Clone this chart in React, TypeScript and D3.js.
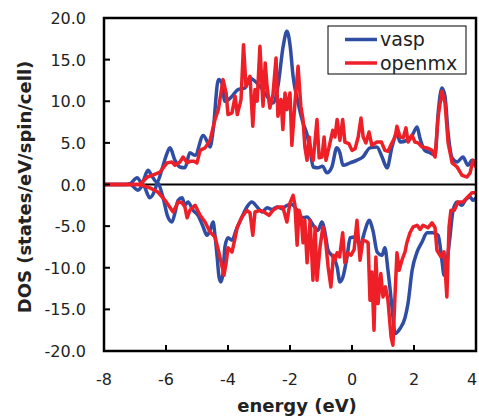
import React from "react";
import * as d3 from "d3";

// ---- data (energy in eV, DOS in states/eV/spin/cell) ----
const vaspUpE = [-8, -7.3, -7.16, -6.93, -6.78, -6.58, -6.45, -6.3, -6.1, -6.0, -5.87, -5.71, -5.55, -5.39, -5.23, -5.06, -4.8, -4.65, -4.58, -4.48, -4.31, -4.2, -4.1, -3.87, -3.68, -3.45, -3.29, -3.13, -2.97, -2.74, -2.55, -2.39, -2.22, -2.1, -2.0, -1.9, -1.74, -1.58, -1.45, -1.35, -1.25, -1.1, -0.95, -0.81, -0.65, -0.49, -0.39, -0.29, -0.06, 0.15, 0.35, 0.58, 0.8, 0.97, 1.13, 1.29, 1.45, 1.55, 1.77, 1.94, 2.1, 2.19, 2.35, 2.52, 2.68, 2.78, 2.9, 3.0, 3.1, 3.23, 3.39, 3.58, 3.74, 3.87, 4.0];
const vaspUpV = [0, 0, 0.1, 0.8, 0.2, 1.7, 1.0, 0.3, 2.2, 3.4, 4.4, 2.9, 2.1, 2.0, 3.8, 3.5, 5.9, 5.0, 4.5, 6.5, 12.6, 12.2, 10, 10.6, 11.4, 11.6, 12.8, 12.4, 11.8, 10.6, 9.8, 11.8, 16.6, 18.4, 16.8, 13, 9.8, 7.4, 6.0, 4.1, 2.1, 2.0, 2.2, 1.4, 2.1, 4.4, 3.8, 2.3, 2.6, 2.9, 3.3, 4.4, 4.5, 3.3, 2.0, 4.5, 6.2, 5.1, 5.3, 5.9, 6.9, 5.6, 4.1, 3.8, 3.5, 8.6, 11.6, 10.6, 6.2, 3.2, 2.7, 3.3, 2.3, 2.9, 2.7];

const vaspDnE = [-8, -7.3, -7.16, -6.9, -6.74, -6.52, -6.35, -6.28, -6.1, -5.94, -5.81, -5.71, -5.61, -5.48, -5.39, -5.29, -5.13, -4.97, -4.8, -4.68, -4.58, -4.48, -4.42, -4.35, -4.29, -4.23, -4.16, -4.1, -4.0, -3.87, -3.74, -3.55, -3.39, -3.23, -3.06, -2.9, -2.74, -2.58, -2.42, -2.26, -2.1, -1.94, -1.77, -1.61, -1.45, -1.25, -1.1, -0.97, -0.87, -0.77, -0.61, -0.48, -0.39, -0.3, -0.16, -0.06, 0.1, 0.26, 0.42, 0.55, 0.68, 0.81, 0.97, 1.06, 1.16, 1.29, 1.39, 1.55, 1.71, 1.81, 1.94, 2.1, 2.26, 2.42, 2.6, 2.78, 2.9, 2.97, 3.06, 3.16, 3.26, 3.39, 3.55, 3.65, 3.81, 3.9, 4.0];
const vaspDnV = [0, 0, 0, -0.7, -0.1, -1.6, -0.6, 0.2, -1.5, -3.9, -4.5, -3.4, -1.9, -1.6, -2.5, -2.1, -3.1, -3.7, -5.1, -6.1, -5.5, -4.5, -6.1, -8.7, -11.1, -11.7, -10.6, -7.5, -6.4, -6.7, -5.5, -3.9, -2.7, -2.1, -2.7, -3.3, -2.8, -3.0, -2.7, -2.9, -2.5, -2.4, -3.1, -4.0, -3.9, -4.9, -5.5, -4.5, -5.8, -7.9, -8.7, -9.9, -11.7, -11.2, -8.7, -6.4, -6.3, -7.3, -5.5, -4.3, -5.6, -8.1, -8.5, -7.6, -10.3, -14.7, -17.9, -17.3, -16.0, -14.2, -10.3, -8.1, -6.9, -5.8, -5.8, -6.1, -9.1, -10.9, -9.4, -6.3, -3.1, -2.1, -2.5, -1.9, -1.5, -1.9, -1.6];

const openmxUpE = [-8, -6.84, -6.6, -6.45, -6.19, -5.97, -5.81, -5.71, -5.55, -5.45, -5.32, -5.2, -5.1, -5.0, -4.9, -4.74, -4.58, -4.42, -4.31, -4.16, -4.06, -4.0, -3.87, -3.77, -3.7, -3.58, -3.5, -3.42, -3.29, -3.2, -3.13, -3.06, -2.97, -2.87, -2.8, -2.74, -2.65, -2.55, -2.45, -2.39, -2.29, -2.23, -2.16, -2.1, -2.0, -1.94, -1.84, -1.74, -1.65, -1.58, -1.52, -1.45, -1.38, -1.32, -1.25, -1.13, -1.06, -0.97, -0.9, -0.84, -0.74, -0.62, -0.55, -0.48, -0.39, -0.3, -0.23, -0.1, 0, 0.1, 0.2, 0.29, 0.36, 0.45, 0.55, 0.64, 0.8, 0.95, 1.06, 1.16, 1.29, 1.39, 1.45, 1.55, 1.65, 1.74, 1.81, 1.94, 2.03, 2.13, 2.26, 2.42, 2.58, 2.68, 2.78, 2.9, 3.0, 3.1, 3.23, 3.39, 3.55, 3.71, 3.81, 3.9, 4.0];
const openmxUpV = [0, 0, 0.9, 1.1, 1.5, 2.6, 2.7, 2.3, 2.7, 3.3, 2.6, 2.8, 2.8, 2.6, 4.1, 4.4, 5.3, 7.8, 9.0, 12.6, 11, 8.4, 8.6, 10.6, 8.4, 10.2, 16.8, 11.8, 13, 7, 11.4, 10, 16.6, 9.4, 14.6, 11.8, 9.2, 10.8, 15.2, 8.2, 10.2, 6.6, 11, 9, 11, 4.7, 9.8, 14.2, 9.4, 7.8, 4.5, 2.9, 5.7, 3.8, 2.9, 7.8, 3.2, 3.3, 5.7, 2.9, 4.5, 6.5, 5.7, 7.8, 5.3, 7.8, 5.1, 4.9, 4.1, 4.3, 5.7, 8.0, 5.7, 5.0, 6.3, 4.7, 5.1, 5.1, 4.1, 4.0, 5.0, 5.7, 7, 5.7, 5.6, 6.8, 5.1, 5.9, 5.1, 5.0, 4.5, 4.4, 4.1, 3.3, 8.2, 11.2, 9.8, 5.0, 2.6, 2.1, 1.1, 0.9, 1.4, 2.9, 2.1];

const openmxDnE = [-8, -6.84, -6.52, -6.26, -6.03, -5.81, -5.77, -5.61, -5.48, -5.39, -5.32, -5.23, -5.06, -4.9, -4.74, -4.58, -4.42, -4.31, -4.2, -4.13, -4.06, -4.0, -3.87, -3.77, -3.7, -3.55, -3.39, -3.29, -3.2, -3.13, -2.97, -2.84, -2.68, -2.55, -2.39, -2.23, -2.1, -2.0, -1.9, -1.84, -1.77, -1.71, -1.64, -1.58, -1.52, -1.45, -1.35, -1.26, -1.19, -1.13, -1.03, -0.94, -0.86, -0.77, -0.68, -0.6, -0.55, -0.48, -0.4, -0.3, -0.23, -0.13, -0.03, 0.07, 0.16, 0.26, 0.35, 0.45, 0.52, 0.58, 0.64, 0.71, 0.77, 0.84, 0.93, 1.0, 1.08, 1.16, 1.26, 1.32, 1.39, 1.45, 1.52, 1.61, 1.71, 1.77, 1.87, 1.97, 2.1, 2.2, 2.29, 2.45, 2.58, 2.68, 2.74, 2.87, 2.97, 3.06, 3.13, 3.19, 3.3, 3.42, 3.58, 3.71, 3.87, 4.0];
const openmxDnV = [0, 0, -0.4, -0.9, -1.9, -3.1, -3.3, -2.1, -2.2, -2.7, -4.0, -3.1, -2.5, -3.7, -4.5, -5.7, -6.3, -7.9, -9.7, -10.9, -9.4, -7.6, -8.1, -6.4, -5.1, -3.9, -3.1, -3.4, -6.1, -3.3, -3.1, -3.3, -3.7, -3.1, -2.7, -2.7, -4.5, -2.2, -1.3, -2.5, -7.3, -3.1, -4.0, -7.0, -4.3, -9.4, -4.3, -11.5, -5.1, -11.5, -7.5, -5.1, -6.5, -9.9, -12.3, -8.5, -9.1, -8.2, -8.7, -5.8, -9.4, -8.2, -8.5, -7.8, -4.3, -9.1, -6.7, -6.8, -7.0, -13.9, -10.5, -17.5, -8.7, -14.3, -10.7, -13.5, -12.3, -13.9, -18.3, -19.3, -13.1, -8.2, -10.3, -9.1, -8.1, -7.0, -5.8, -5.1, -4.9, -5.4, -4.9, -5.2, -4.6, -5.2, -7.9, -8.7, -8.1, -13.5, -5.1, -3.1, -3.1, -2.1, -2.1, -1.6, -1.0, -1.0];

const xTicks = [-8, -6, -4, -2, 0, 2, 4];
const yTicks = [20, 15, 10, 5, 0, -5, -10, -15, -20];
const seriesNames = ["vasp", "openmx"];
const xTitle = "energy (eV)";
const yTitle = "DOS (states/eV/spin/cell)";

const BLUE = "#2f4da3";
const RED = "#ee1f27";

export default function App() {
  const W = 479, H = 419;
  const L = 104, R = 476, T = 18, B = 351;
  const x = d3.scaleLinear().domain([-8, 4]).range([L, R]);
  const y = d3.scaleLinear().domain([-20, 20]).range([B, T]);

  const smooth = d3.line<[number, number]>().x((d) => x(d[0])).y((d) => y(d[1])).curve(d3.curveMonotoneX);
  const jag = d3.line<[number, number]>().x((d) => x(d[0])).y((d) => y(d[1])).curve(d3.curveLinear);
  const zip = (e: number[], v: number[]) => e.map((ev, i) => [ev, v[i]] as [number, number]);

  const font = "'DejaVu Sans', sans-serif";
  return (
    <svg width={W} height={H} style={{ position: "absolute", left: 0, top: 0, background: "#fff" }}>
      <defs>
        <clipPath id="plotclip">
          <rect x={L} y={T} width={R - L} height={B - T} />
        </clipPath>
      </defs>
      <line x1={L} x2={R} y1={y(0)} y2={y(0)} stroke="#000" strokeWidth={2} />
      <g clipPath="url(#plotclip)" fill="none" strokeWidth={3.5} strokeLinejoin="round" strokeLinecap="round">
        <path d={smooth(zip(vaspUpE, vaspUpV)) || ""} stroke={BLUE} />
        <path d={smooth(zip(vaspDnE, vaspDnV)) || ""} stroke={BLUE} />
        <path d={jag(zip(openmxUpE, openmxUpV)) || ""} stroke={RED} />
        <path d={jag(zip(openmxDnE, openmxDnV)) || ""} stroke={RED} />
      </g>
      <rect x={L} y={T} width={R - L} height={B - T} fill="none" stroke="#000" strokeWidth={2.5} />
      {xTicks.map((t) => (
        <g key={"x" + t}>
          <line x1={x(t)} x2={x(t)} y1={B} y2={B - 6} stroke="#000" strokeWidth={2} />
          <text x={Math.min(x(t), 472)} y={385} textAnchor="middle" fontFamily={font} fontSize={16} fill="#222">{t}</text>
        </g>
      ))}
      {yTicks.map((t) => (
        <g key={"y" + t}>
          <line x1={L} x2={L + 6} y1={y(t)} y2={y(t)} stroke="#000" strokeWidth={2} />
          <text x={86} y={y(t) + 6} textAnchor="end" fontFamily={font} fontSize={16} fill="#222">{t.toFixed(1)}</text>
        </g>
      ))}
      <text x={297} y={412} textAnchor="middle" fontFamily={font} fontSize={18} fontWeight="bold" fill="#222">{xTitle}</text>
      <text transform={`translate(31,187) rotate(-90)`} textAnchor="middle" fontFamily={font} fontSize={18} fontWeight="bold" fill="#222">{yTitle}</text>
      <g>
        <rect x={328} y={26} width={138} height={48} fill="#fff" stroke="#000" strokeWidth={1} />
        {seriesNames.map((n, i) => (
          <g key={n}>
            <line x1={345} x2={377} y1={39.5 + i * 23.5} y2={39.5 + i * 23.5} stroke={i === 0 ? BLUE : RED} strokeWidth={3.5} />
            <text x={380} y={46 + i * 23.5} fontFamily={font} fontSize={19} fill="#222">{n}</text>
          </g>
        ))}
      </g>
    </svg>
  );
}
